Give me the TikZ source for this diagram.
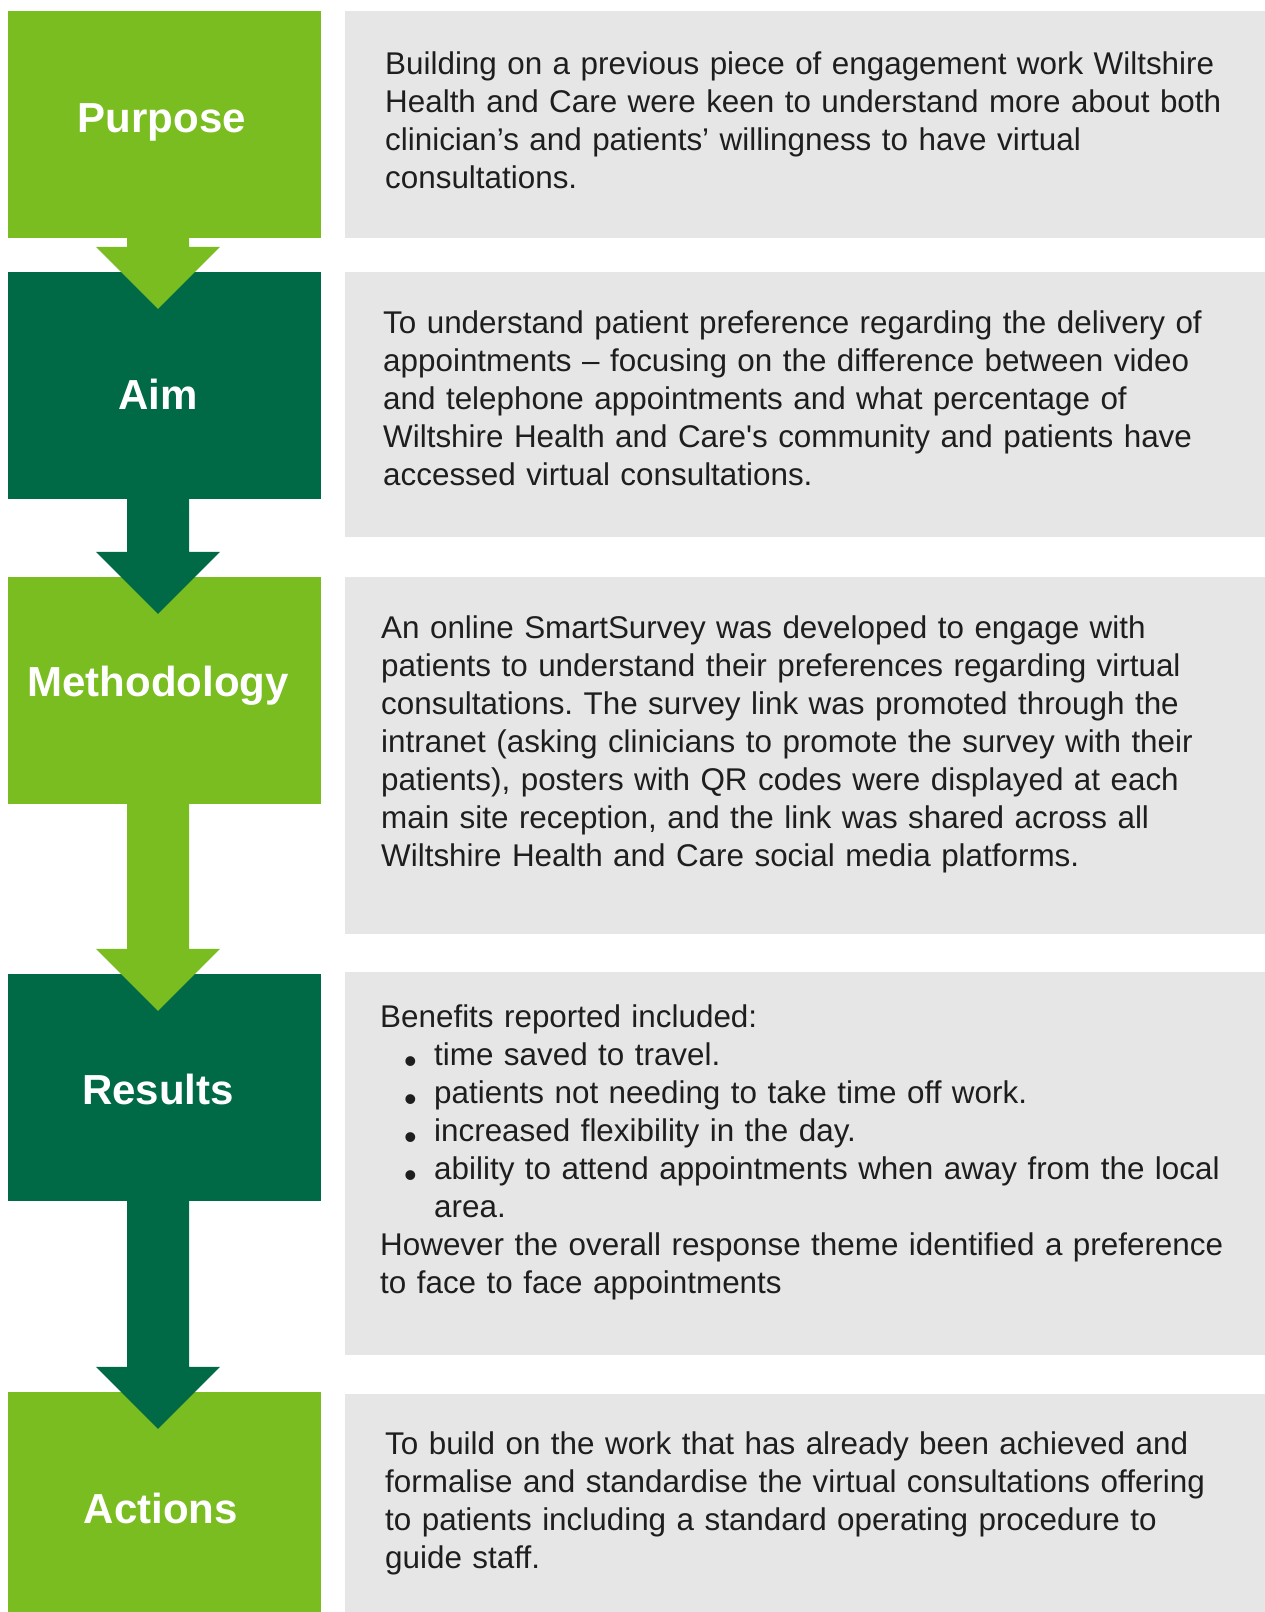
\documentclass[tikz,border=0pt]{standalone}
\usepackage{fontspec}
\setmainfont{Liberation Sans}
\usetikzlibrary{calc}
\definecolor{lgreen}{RGB}{122,189,33}
\definecolor{dgreen}{RGB}{0,106,71}
\definecolor{panel}{RGB}{230,230,230}
\definecolor{ink}{RGB}{30,30,30}
\tikzset{stage/.style={minimum width=313pt, minimum height=227pt, inner sep=0pt},
         card/.style={fill=panel, minimum width=920pt, inner sep=0pt},
         head/.style={anchor=base, text=white, font=\fontsize{42}{50}\selectfont\bfseries},
         body/.style={anchor=base west, text=ink, align=left, text width=870pt,
                      inner sep=0pt, font=\fontsize{31.4}{38}\selectfont\frenchspacing}}
% block arrow from the bottom of one stage into the top of the next
\newcommand\flowarrow[3]{%
  \fill[#3] ($(#1.south)+(-37.5,0)$) -- ($(#1.south)+(24.5,0)$)
     -- ($(#2.north)+(24.5,-25)$) -- ($(#2.north)+(55.5,-25)$)
     -- ($(#2.north)+(-6.5,37)$) -- ($(#2.north)+(-68.5,-25)$)
     -- ($(#2.north)+(-37.5,-25)$) -- cycle;}
\newcommand\benefit{\hspace*{24pt}\makebox[30pt][l]{\raisebox{-8pt}{\fontsize{36}{36}\selectfont\textbullet}}}

\begin{document}
\begin{tikzpicture}[x=1pt, y=-1pt]
  \useasboundingbox (0,0) rectangle (1265,1612);

  % ---------- stages on the left ----------
  \node[stage, fill=lgreen] (purpose) at (164.5,124.5) {};
  \node[stage, fill=dgreen] (aim)     at (164.5,385.5) {};
  \node[stage, fill=lgreen] (method)  at (164.5,690.5) {};
  \node[stage, fill=dgreen] (results) at (164.5,1087.5) {};
  \node[stage, fill=lgreen, minimum height=220pt] (actions) at (164.5,1502) {};

  % ---------- grey panels on the right ----------
  \node[card, minimum height=227pt] (purposecard) at (805,124.5) {};
  \node[card, minimum height=265pt] (aimcard)     at (805,404.5) {};
  \node[card, minimum height=357pt] (methodcard)  at (805,755.5) {};
  \node[card, minimum height=383pt] (resultscard) at (805,1163.5) {};
  \node[card, minimum height=218pt] (actionscard) at (805,1503) {};

  % ---------- arrows between the stages ----------
  \flowarrow{purpose}{aim}{lgreen}
  \flowarrow{aim}{method}{dgreen}
  \flowarrow{method}{results}{lgreen}
  \flowarrow{results}{actions}{dgreen}

  % ---------- stage titles ----------
  \node[head] (purposehd) at (162,132)  {Purpose};
  \node[head] (aimhd)     at (158,409)  {Aim};
  \node[head] (methodhd)  at (158,696)  {Methodology};
  \node[head] (resultshd) at (158,1104) {Results};
  \node[head] (actionshd) at (161,1523) {Actions};

  % ---------- panel texts ----------
  \node[body] (purposetxt) at (385,74) {Building on a previous piece of engagement work Wiltshire\\
    Health and Care were keen to understand more about both\\
    clinician’s and patients’ willingness to have virtual\\
    consultations.};
  \node[body] (aimtxt) at (383,333) {To understand patient preference regarding the delivery of\\
    appointments – focusing on the difference between video\\
    and telephone appointments and what percentage of\\
    Wiltshire Health and Care\textquotesingle s community and patients have\\
    accessed virtual consultations.};
  \node[body] (methodtxt) at (381,638) {An online SmartSurvey was developed to engage with\\
    patients to understand their preferences regarding virtual\\
    consultations. The survey link was promoted through the\\
    intranet (asking clinicians to promote the survey with their\\
    patients), posters with QR codes were displayed at each\\
    main site reception, and the link was shared across all\\
    Wiltshire Health and Care social media platforms.};
  \node[body] (resultstxt) at (380,1027) {Benefits reported included:\\
    \benefit time saved to travel.\\
    \benefit patients not needing to take time off work.\\
    \benefit increased flexibility in the day.\\
    \benefit ability to attend appointments when away from the local\\
    \hspace*{54pt}area.\\
    However the overall response theme identified a preference\\
    to face to face appointments};
  \node[body] (actionstxt) at (385,1454) {To build on the work that has already been achieved and\\
    formalise and standardise the virtual consultations offering\\
    to patients including a standard operating procedure to\\
    guide staff.};

\end{tikzpicture}
\end{document}
